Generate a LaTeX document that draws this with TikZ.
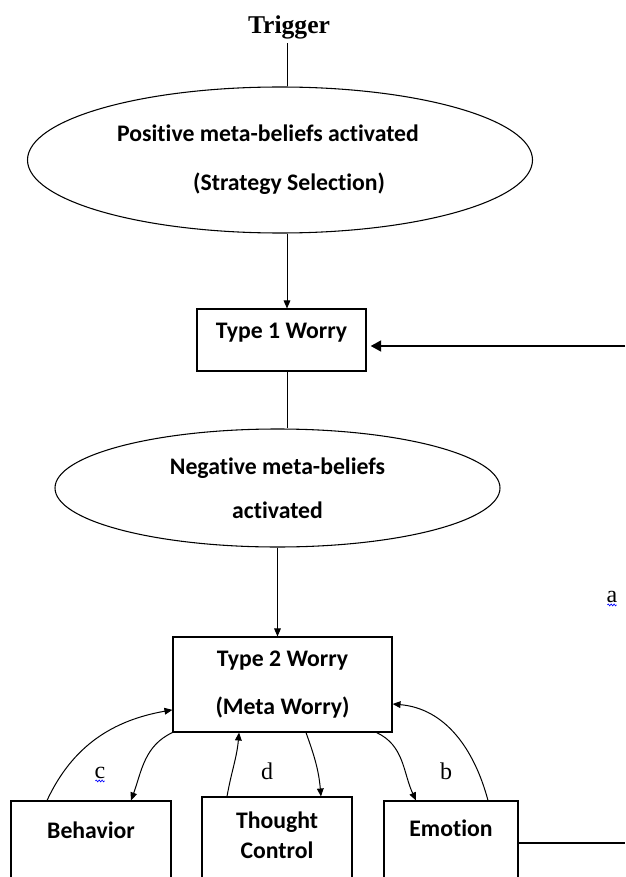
\documentclass[tikz,border=0pt]{standalone}
\usepackage{fontspec}
\setmainfont{Liberation Serif}
\newfontfamily\calib[Ligatures=NoCommon]{Carlito}
\usetikzlibrary{shapes.geometric,arrows.meta,decorations.pathmorphing}

\tikzset{
  oval/.style={draw, line width=0.8pt, ellipse, align=center, inner sep=0pt},
  wbox/.style={draw, line width=0.8pt, rectangle, align=center,
    font=\calib\bfseries\fontsize{17.8}{22.5}\selectfont},
  link/.style={line width=0.75pt, -{Triangle[length=6pt,width=5pt]}},
  bigarrow/.style={line width=2.2pt, -{Triangle[length=8pt,width=8pt]}},
  letter/.style={font=\fontsize{18}{20}\selectfont},
  squiggle/.style={blue, line width=0.5pt, decorate,
    decoration={snake, amplitude=0.7pt, segment length=2.2pt}}
}

\begin{document}
\begin{tikzpicture}[x=0.75pt,y=-0.75pt]
    \useasboundingbox (0,0) rectangle (625,877);
    \coordinate (spine) at (287,0);

    % Trigger and the two ovals
    \node[font=\bfseries\fontsize{19.2}{22}\selectfont] (trig) at (289,27) {Trigger};
    \node[oval, minimum width=378.75pt, minimum height=109.5pt, align=left,
      font=\calib\bfseries\fontsize{17.8}{36.75}\selectfont] (pos) at (280,160)
      {Positive meta-beliefs activated\hspace*{18pt}\\\hspace*{57pt}(Strategy Selection)};
    \node[oval, minimum width=333.75pt, minimum height=88.5pt,
      font=\calib\bfseries\fontsize{17.8}{33}\selectfont] (neg) at (277.5,488)
      {Negative meta-beliefs\\activated};

    % Worry boxes
    \node[wbox, anchor=base, inner ysep=0pt, minimum width=126.75pt,
      text height=21.75pt, text depth=24.75pt] (t1) at (281.5,338) {Type 1 Worry};
    \node[wbox, minimum width=164.25pt, minimum height=71.25pt,
      font=\calib\bfseries\fontsize{17.8}{36}\selectfont] (t2) at (282.5,684.5)
      {Type 2 Worry\\(Meta Worry)};

    % Bottom boxes (cut off by the page edge)
    \node[wbox, anchor=base, inner ysep=0pt, minimum width=120pt,
      text height=27.75pt, text depth=45pt] (beh) at (91,838) {Behavior};
    \node[wbox, anchor=base, inner ysep=0pt, minimum width=112.5pt,
      text height=45.75pt, text depth=30pt] (tc) at (277,858) {Thought\\Control};
    \node[wbox, anchor=base, inner ysep=0pt, minimum width=100.5pt,
      text height=26.25pt, text depth=45pt] (emo) at (451,836) {Emotion};

    % Main line
    \draw[line width=0.75pt] (spine |- trig.south) -- (spine |- pos.north);
    \draw[link] (spine |- pos.south) -- (spine |- t1.north);
    \draw[line width=0.75pt] (spine |- t1.south) -- (spine |- neg.north);
    \draw[link] (neg.south) -- (neg.south |- t2.north);

    % Feedback lines on the right
    \coordinate (aIn) at (625,346);
    \coordinate (eOut) at (625,843);
    \draw[bigarrow, shorten >=3pt] (aIn) -- (t1.east |- aIn);
    \draw[line width=2.2pt] (emo.east |- eOut) -- (eOut);

    % Curved links
    \draw[link] ([xshift=-33pt]beh.north) to[out=65,in=190] ([yshift=-19pt]t2.west);
    \draw[link] (t2.south west) to[out=205,in=70] ([xshift=30pt]beh.north);
    \draw[link] ([xshift=-37.5pt]tc.north) to[out=80,in=265] ([xshift=-32.6pt]t2.south);
    \draw[link] ([xshift=17.6pt]t2.south) to[out=-70,in=95] ([xshift=33pt]tc.north);
    \draw[link] ([xshift=-12pt]t2.south east) to[out=-25,in=115] ([xshift=-26.25pt]emo.north);
    \draw[link] ([xshift=27.75pt]emo.north) to[out=105,in=-5] ([yshift=-14.6pt]t2.east);

    % Letters
    \node[letter] (la) at (612,597) {a};
    \node[letter] (lb) at (446,771) {b};
    \node[letter] (lc) at (100,773) {c};
    \node[letter] (ld) at (267,771) {d};
    \draw[squiggle] ([xshift=-3.5pt,yshift=-1.8pt]la.base) -- ([xshift=3.5pt,yshift=-1.8pt]la.base);
    \draw[squiggle] ([xshift=-3.5pt,yshift=-1.8pt]lc.base) -- ([xshift=3.5pt,yshift=-1.8pt]lc.base);

\end{tikzpicture}
\end{document}
